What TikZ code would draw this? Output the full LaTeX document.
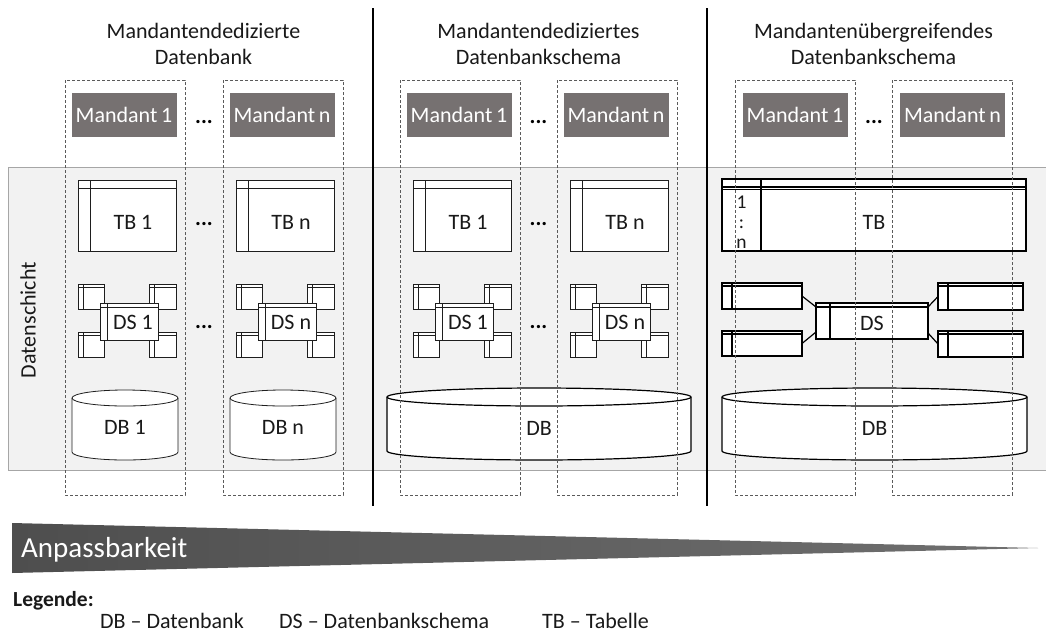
\documentclass[tikz,border=0pt]{standalone}
\usepackage{fontspec}
\setmainfont{Carlito}
\usetikzlibrary{calc}
\definecolor{mandc}{RGB}{118,113,113}
\definecolor{bandc}{RGB}{242,242,242}
\definecolor{bandl}{RGB}{166,166,166}
\definecolor{dashc}{RGB}{90,90,90}
\definecolor{iconl}{RGB}{30,30,30}
\tikzset{
  txt/.style={font=\fontsize{22}{26}\selectfont, inner sep=0pt, text=black!90},
  mandbox/.style={fill=mandc, text=white, minimum width=105pt, minimum height=44pt, inner sep=0pt, font=\fontsize{22}{26}\selectfont},
  dbox/.style={draw=dashc, dash pattern=on 3pt off 2pt, line width=0.7pt},
  icon/.style={draw=iconl, line width=0.8pt, fill=white},
  iconline/.style={draw=iconl, line width=0.8pt},
  bicon/.style={draw=black, line width=1.6pt, fill=white, inner sep=0pt, outer sep=0pt},
  bline/.style={draw=black, line width=1.2pt},
  dots/.style={font=\fontsize{22}{26}\selectfont\bfseries, inner sep=0pt, anchor=base},
}
% table icon: x1,y1,x2,y2,dx,dy
\newcommand{\tblicon}[6]{%
  \draw[icon] (#1,#2) rectangle (#3,#4);
  \draw[iconline] (#1,#2+#6) -- (#3,#2+#6);
  \draw[iconline] (#1+#5,#2) -- (#1+#5,#4);
}
% cylinder: cx, rx, ytop, ybot, ry, style
\newcommand{\cylinder}[6]{%
  \filldraw[fill=white,#6] (#1-#2,#3) -- (#1-#2,#4)
     arc[start angle=180,end angle=360,x radius=#2pt,y radius=#5pt]
     -- (#1+#2,#3)
     arc[start angle=0,end angle=180,x radius=#2pt,y radius=#5pt] -- cycle;
  \draw[#6] (#1+#2,#3) arc[start angle=0,end angle=-180,x radius=#2pt,y radius=#5pt];
}
\newcommand{\innerl}[4]{%
  \draw[#4] ($(#1.north west)+(#2,0)$) -- ($(#1.south west)+(#2,0)$);
  \draw[#4] ($(#1.north west)+(0,#3)$) -- ($(#1.north east)+(0,#3)$);
}
\begin{document}
\begin{tikzpicture}[x=1pt,y=-1pt]
\useasboundingbox (0,0) rectangle (1046,635);
\fill[white] (0,0) rectangle (1046,635);
% data layer band
\fill[bandc] (8,167) rectangle (1046,470);
\draw[bandl, line width=0.8pt] (1046,167) -- (8,167) -- (8,470) -- (1046,470);
\node[txt, rotate=90] (dschicht) at (28,320) {Datenschicht};
% separators
\draw[black, line width=1.4pt] (373,8) -- (373,506);
\draw[black, line width=1.4pt] (707,8) -- (707,506);
% titles
\node[txt, align=center] (t1) at (203.5,44) {Mandantendedizierte\\Datenbank};
\node[txt, align=center] (t2) at (538.5,44) {Mandantendediziertes\\Datenbankschema};
\node[txt, align=center] (t3) at (873.5,44) {Mandantenübergreifendes\\Datenbankschema};
% sections 1 and 2
\foreach \xo/\lab/\nm in {65/1/a, 223/n/b, 400/1/c, 557/n/d} {
  \node[mandbox] (m\nm) at (\xo+59,114.5) {Mandant\,\lab};
  \tblicon{\xo+13}{180}{\xo+111}{251}{12}{8}
  \node[txt] (tb\nm) at (\xo+68,222) {TB \lab};
  \tblicon{\xo+13}{284}{\xo+39}{309}{5}{3}
  \tblicon{\xo+84}{284}{\xo+111}{309}{5}{3}
  \tblicon{\xo+13}{332}{\xo+39}{357}{5}{3}
  \tblicon{\xo+84}{332}{\xo+111}{357}{5}{3}
  \tblicon{\xo+35}{303}{\xo+93}{340}{7}{4}
  \node[txt] (ds\nm) at (\xo+68,322) {DS \lab};
}
\foreach \xo/\lab/\nm in {65/1/a, 223/n/b} {
  \cylinder{\xo+60}{53}{398}{452}{8}{iconline}
  \node[txt] (db\nm) at (\xo+60,427) {DB \lab};
}
\cylinder{539}{152}{397}{451}{9}{draw=black,line width=1.2pt}
\node[txt] (dbc) at (539,428) {DB};
% section 3 mandants
\node[mandbox] (me) at (795,114.5) {Mandant\,1};
\node[mandbox] (mf) at (952.5,114.5) {Mandant\,n};
% section 3 table
\node[bicon, minimum width=304pt, minimum height=72pt] (tbg) at (874,215) {};
\draw[bline] ($(tbg.north west)+(0,8)$) -- ($(tbg.north east)+(0,8)$);
\draw[bline] ($(tbg.north west)+(0,10.5)$) -- ($(tbg.north east)+(0,10.5)$);
\draw[bline] ($(tbg.north west)+(39,0)$) -- ($(tbg.south west)+(39,0)$);
\node[txt, align=center, font=\fontsize{19.5}{20}\selectfont] (onen) at (741.5,222) {1\\:\\n};
\node[txt] (tbl) at (874,222) {TB};
% section 3 schema
\node[bicon, line width=1.2pt, minimum width=80pt, minimum height=26pt] (l1) at (762,296) {};
\node[bicon, line width=1.2pt, minimum width=80pt, minimum height=25pt] (l2) at (762,343.5) {};
\node[bicon, line width=1.2pt, minimum width=85pt, minimum height=27pt] (r1) at (980.5,296.5) {};
\node[bicon, line width=1.2pt, minimum width=85pt, minimum height=26pt] (r2) at (980.5,344) {};
\node[bicon, line width=1.2pt, minimum width=112pt, minimum height=36pt] (dsc) at (872,321) {};
\innerl{l1}{10}{3}{bline}
\innerl{l2}{10}{3}{bline}
\innerl{r1}{10}{3}{bline}
\innerl{r2}{10}{3}{bline}
\innerl{dsc}{14}{4}{bline}
\node[txt] (dsl) at (872,323) {DS};
\draw[bline] (l1.east) -- ($(dsc.north west)+(0,4)$);
\draw[bline] (l2.east) -- ($(dsc.south west)+(0,-7)$);
\draw[bline] ($(dsc.north east)+(0,4)$) -- (r1.west);
\draw[bline] ($(dsc.south east)+(0,-6)$) -- (r2.west);
\cylinder{874.5}{152.5}{397}{451}{9}{draw=black,line width=1.2pt}
\node[txt] (dbe) at (874.5,428) {DB};
% dots
\foreach \xd/\nm in {204/a, 538.5/b, 874/c} {
  \node[dots] (dm\nm) at (\xd,123.5) {...};
}
\foreach \xd/\nm in {204/a, 538.5/b} {
  \node[dots] (dt\nm) at (\xd,225) {...};
  \node[dots] (dd\nm) at (\xd,328) {...};
}
% dashed tenant boxes
\foreach \xo in {65, 223, 400, 557, 735, 892} {
  \draw[dbox] (\xo,80) rectangle (\xo+120,495);
}
% customizability wedge
\shade[left color={rgb,255:red,78;green,78;blue,78}, right color={rgb,255:red,112;green,112;blue,112}]
  (12,523) -- (1038,548) -- (12,573) -- cycle;
\node[font=\fontsize{29}{34}\selectfont, text=white, inner sep=0pt, anchor=west] (anp) at (21,550) {Anpassbarkeit};
% legend
\node[txt, anchor=base west, font=\fontsize{21.5}{26}\selectfont\bfseries] (leg) at (13,606) {Legende:};
\node[txt, anchor=base west] (lg1) at (100,628) {DB – Datenbank};
\node[txt, anchor=base west] (lg2) at (279,628) {DS – Datenbankschema};
\node[txt, anchor=base west] (lg3) at (542,628) {TB – Tabelle};
\end{tikzpicture}
\end{document}
